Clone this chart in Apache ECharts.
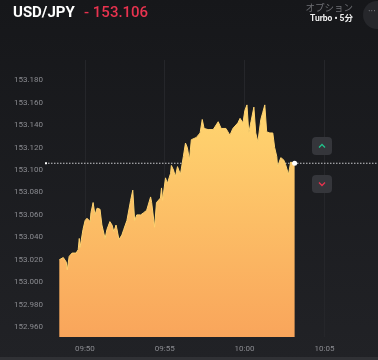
<!DOCTYPE html>
<html>
<head>
<meta charset="utf-8">
<script src="https://cdn.jsdelivr.net/npm/echarts@6/dist/echarts.min.js"></script>
<style>
html,body{margin:0;padding:0;background:#1b1c20;}
#c{width:378px;height:360px;}
</style>
</head>
<body>
<div id="c"></div>
<script>
const pair = 'USD/JPY';
const lastQuote = '- 153.106';
const optionLabel = 'オプション';
const modeLabel = 'Turbo • 5分';
const yTicks = [152.96, 152.98, 153.00, 153.02, 153.04, 153.06, 153.08, 153.10, 153.12, 153.14, 153.16, 153.18];
const xTickLabels = ['09:50', '09:55', '10:00', '10:05'];
const times = ['09:48:24','09:48:39','09:48:50','09:48:54','09:49:01','09:49:12','09:49:27','09:49:35','09:49:39','09:49:42',
'09:49:53','09:50:01','09:50:08','09:50:20','09:50:23','09:50:31','09:50:38','09:50:46','09:50:57','09:51:04',
'09:51:16','09:51:23','09:51:34','09:51:42','09:51:49','09:51:57','09:52:00','09:52:08','09:52:19','09:52:26',
'09:52:38','09:52:52','09:53:00','09:53:07','09:53:15','09:53:30','09:53:41','09:53:52','09:54:07','09:54:11',
'09:54:22','09:54:29','09:54:44','09:54:48','09:54:52','09:55:03','09:55:10','09:55:22','09:55:25','09:55:33',
'09:55:40','09:55:48','09:55:59','09:56:10','09:56:18','09:56:25','09:56:33','09:56:40','09:56:59','09:57:13',
'09:57:21','09:57:28','09:57:43','09:58:02','09:58:21','09:58:32','09:58:50','09:59:05','09:59:16','09:59:35',
'09:59:43','09:59:54','10:00:01','10:00:09','10:00:16','10:00:24','10:00:35','10:00:42','10:00:50','10:01:01',
'10:01:08','10:01:16','10:01:23','10:01:35','10:01:46','10:01:53','10:02:01','10:02:04','10:02:16','10:02:27',
'10:02:34','10:02:45','10:02:53','10:03:00','10:03:08'];
const prices = [153.020,153.022,153.018,153.011,153.023,153.026,153.026,153.029,153.039,153.031,
153.047,153.055,153.057,153.054,153.062,153.071,153.060,153.066,153.065,153.051,
153.039,153.047,153.054,153.051,153.045,153.051,153.048,153.038,153.042,153.047,
153.055,153.073,153.082,153.055,153.060,153.060,153.062,153.064,153.076,153.071,
153.049,153.071,153.075,153.084,153.073,153.093,153.088,153.097,153.104,153.100,
153.094,153.103,153.096,153.112,153.124,153.120,153.109,153.127,153.129,153.133,
153.145,153.137,153.136,153.136,153.143,153.137,153.137,153.131,153.137,153.142,
153.146,153.142,153.153,153.158,153.133,153.143,153.156,153.133,153.125,153.145,
153.151,153.158,153.134,153.133,153.133,153.120,153.112,153.103,153.111,153.109,
153.105,153.096,153.107,153.107,153.106];

const BASE = 9*3600 + 45*60;
function toSec(t){ const p = t.split(':').map(Number); return p[0]*3600 + p[1]*60 + p[2] - BASE; }
function fmtSec(v){ const s = v + BASE; const h = Math.floor(s/3600); const m = Math.floor((s%3600)/60); return String(h).padStart(2,'0') + ':' + String(m).padStart(2,'0'); }
const data = times.map((t,i) => [toSec(t), prices[i]]);
const last = data[data.length-1];

const chart = echarts.init(document.getElementById('c'), null, {renderer:'canvas'});
const FONT = 'Roboto, "Noto Sans CJK JP", sans-serif';
chart.setOption({
  backgroundColor: {type:'linear', x:0, y:0, x2:0, y2:1, colorStops:[{offset:0,color:'#16171a'},{offset:1,color:'#212226'}]},
  animation: false,
  grid: {left: 5, right: 0, top: 60, bottom: 23},
  xAxis: {
    type: 'value', min: 0, max: 1390, interval: 300,
    axisLine: {show:false}, axisTick: {show:false},
    axisLabel: {color:'#8a8b90', fontSize: 8, fontFamily: FONT, margin: 8,
      formatter: v => { const l = fmtSec(v); return (v % 300 === 0 && xTickLabels.indexOf(l) >= 0) ? l : ''; }},
    splitLine: {show:true, showMinLine:false, showMaxLine:false, lineStyle:{color:'#25262a', width:1}}
  },
  yAxis: {
    type: 'value', min: 152.9512, max: 153.198,
    axisLine: {show:false}, axisTick: {show:false},
    splitLine: {show:false},
    axisLabel: {inside: true, margin: 9, color:'#8a8b90', fontSize: 8, fontFamily: FONT,
      customValues: yTicks, formatter: v => v.toFixed(3)}
  },
  series: [{
    type: 'line', data: data, showSymbol: false, smooth: false,
    lineStyle: {width: 1, color: '#ffd370'},
    areaStyle: {opacity: 1, color: {type:'linear', x:0, y:0, x2:0, y2:1, colorStops:[{offset:0,color:'#ffd670'},{offset:1,color:'#f9a55b'}]}},
    markPoint: {symbol:'circle', symbolSize: 5, itemStyle:{color:'#ffffff'}, label:{show:false}, data:[{coord: last}]}
  }]
});

const yLast = chart.convertToPixel({yAxisIndex:0}, last[1]);
chart.setOption({
  graphic: [
    {type:'line', shape:{x1:48, y1:yLast, x2:378, y2:yLast}, style:{stroke:'#c8c8cc', lineWidth:1, lineDash:[1.5,1.5]}, z:1},
    {type:'rect', shape:{x:45, y:yLast-1, width:2, height:2}, style:{fill:'#ffffff'}},
    {type:'text', left:13, top:6, style:{text: pair, fill:'#ffffff', font:'bold 15px ' + FONT}},
    {type:'text', left:84, top:6, style:{text: lastQuote, fill:'#e8334f', font:'500 15px ' + FONT}},
    {type:'text', right:25, top:3, style:{text: optionLabel, fill:'#6f7075', font:'9.5px "Noto Sans CJK JP", sans-serif', align:'right'}},
    {type:'text', right:25, top:15, style:{text: modeLabel, fill:'#eeeeee', font:'bold 8.5px ' + FONT, align:'right'}},
    {type:'circle', shape:{cx:377, cy:15, r:14}, style:{fill:'#26272b'}},
    {type:'text', left:368, top:8, style:{text:'···', fill:'#7a7b80', font:'10px ' + FONT}},
    {type:'rect', shape:{x:312, y:137, width:20, height:18, r:4}, style:{fill:'#35363b'}},
    {type:'polyline', shape:{points:[[319,147.5],[322,144.5],[325,147.5]]}, style:{stroke:'#22c08a', lineWidth:1.3, fill:null}},
    {type:'rect', shape:{x:312, y:175, width:20, height:18, r:4}, style:{fill:'#35363b'}},
    {type:'polyline', shape:{points:[[319,182.5],[322,185.5],[325,182.5]]}, style:{stroke:'#e8334f', lineWidth:1.3, fill:null}},
    {type:'rect', shape:{x:0, y:357, width:378, height:3}, style:{fill:'#303135'}}
  ]
});
</script>
</body>
</html>
